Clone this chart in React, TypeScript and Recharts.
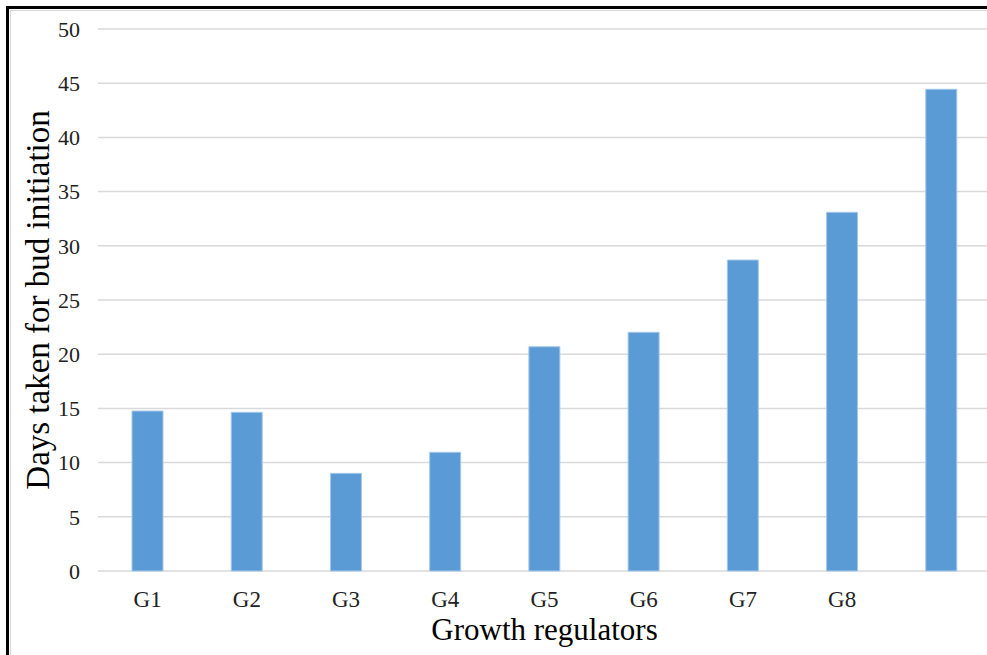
import { BarChart, Bar, XAxis, YAxis, CartesianGrid, Label } from 'recharts';

const categories = ['G1', 'G2', 'G3', 'G4', 'G5', 'G6', 'G7', 'G8', ''];
const daysTaken = [14.76, 14.64, 9.01, 10.95, 20.69, 22.02, 28.69, 33.09, 44.44];
const yTicks = [0, 5, 10, 15, 20, 25, 30, 35, 40, 45, 50];

const chartData = categories.map((name, i) => ({ name, days: daysTaken[i] }));

const serif = '"Liberation Serif", "Times New Roman", serif';

function YTitle(props: any) {
  const vb = props.viewBox || {};
  const cx = 38;
  const cy = vb.y + vb.height / 2;
  return (
    <text
      x={cx}
      y={cy}
      transform={`rotate(-90, ${cx}, ${cy})`}
      textAnchor='middle'
      dominantBaseline='central'
      fontFamily={serif}
      fontSize={33}
      fill='#000'
    >
      Days taken for bud initiation
    </text>
  );
}

export default function App() {
  return (
    <div
      style={{
        position: 'absolute',
        left: 0,
        top: 0,
        width: 987,
        height: 655,
        overflow: 'hidden',
        background: '#fff',
      }}
    >
      <div
        style={{
          position: 'absolute',
          left: 6,
          top: 6,
          width: 1100,
          height: 800,
          border: '3px solid #000',
        }}
      />
      <div
        style={{
          position: 'absolute',
          left: 10,
          top: 10,
          width: 1100,
          height: 800,
          border: '1px solid #d9d9d9',
        }}
      />
      <div style={{ position: 'absolute', left: 0, top: 0 }}>
        <BarChart
          width={1000}
          height={700}
          data={chartData}
          margin={{ top: 29, right: 9, left: 0, bottom: 0 }}
        >
          <CartesianGrid vertical={false} stroke='#d9d9d9' strokeWidth={1.5} />
          <XAxis
            dataKey='name'
            height={129}
            axisLine={false}
            tickLine={false}
            tickSize={0}
            tickMargin={20}
            tick={{ fontFamily: serif, fontSize: 23, fill: '#222' }}
            interval={0}
          >
            <Label
              value='Growth regulators'
              position='insideBottom'
              offset={60}
              style={{ fontFamily: serif, fontSize: 31, fill: '#000' }}
            />
          </XAxis>
          <YAxis
            width={98}
            domain={[0, 50]}
            ticks={yTicks}
            axisLine={false}
            tickLine={false}
            tickSize={0}
            tickMargin={18}
            tick={{ fontFamily: serif, fontSize: 22, fill: '#222' }}
          >
            <Label content={<YTitle />} />
          </YAxis>
          <Bar
            dataKey='days'
            fill='#5b9bd5'
            stroke='#a6c8ea'
            strokeWidth={1}
            barSize={31}
            isAnimationActive={false}
          />
        </BarChart>
      </div>
    </div>
  );
}
